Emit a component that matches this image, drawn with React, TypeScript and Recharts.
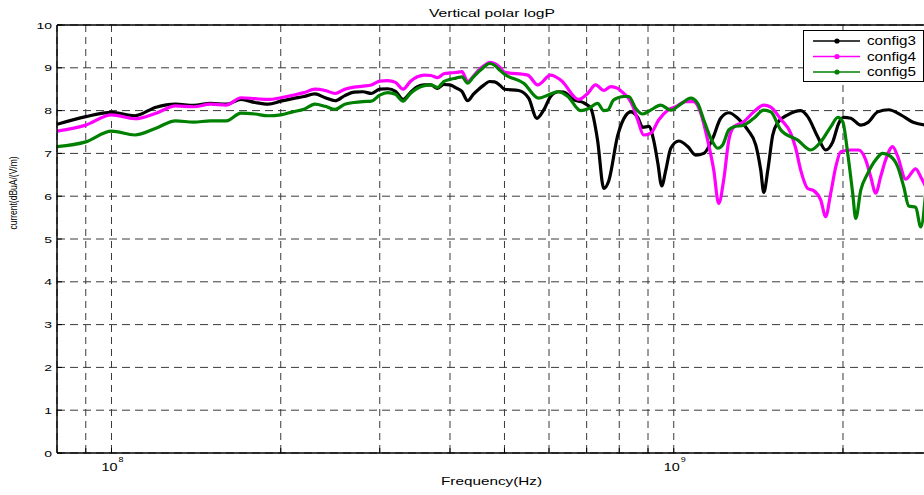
import React from 'react';
import { LineChart, Line, XAxis, YAxis, CartesianGrid, ReferenceLine, Legend } from 'recharts';

const FONT = '"Liberation Sans", Arial, Helvetica, sans-serif';

const titleText = 'Vertical polar logP';
const xLabelText = 'Frequency(Hz)';
const yLabelText = 'current(dBuA/(V/m)';

const gridFrequencies = [9e7, 1e8, 2e8, 3e8, 4e8, 5e8, 6e8, 7e8, 8e8, 9e8, 1e9, 2e9, 3e9];
const yTicks = [0, 1, 2, 3, 4, 5, 6, 7, 8, 9, 10];

const seriesNames = ['config3', 'config4', 'config5'];
const seriesColors = ['#000000', '#ff00ff', '#008000'];

const config3Freq = [
  80e6, 90e6, 100e6, 110e6, 120e6, 130e6, 140e6, 150e6, 160e6, 170e6, 180e6, 190e6, 200e6,
  210e6, 220e6, 230e6, 240e6, 250e6, 260e6, 270e6, 280e6, 290e6, 300e6, 310e6, 320e6, 330e6,
  340e6, 350e6, 360e6, 370e6, 380e6, 390e6, 400e6, 410e6, 420e6, 430e6, 440e6, 450e6, 460e6,
  470e6, 480e6, 490e6, 500e6,
  530e6, 552e6, 571e6, 587e6, 604e6, 624e6, 637e6, 664e6, 692e6, 712e6, 732e6, 751e6, 766e6,
  795e6, 821e6, 838e6, 863e6, 881e6, 903e6, 921e6, 937e6, 952e6, 968e6, 988e6, 1021e6, 1059e6,
  1094e6, 1131e6, 1173e6, 1212e6, 1253e6, 1300e6, 1354e6, 1399e6, 1428e6, 1446e6, 1470e6,
  1500e6, 1531e6, 1595e6, 1682e6, 1731e6, 1803e6, 1863e6, 1918e6, 1965e6, 2006e6, 2065e6,
  2151e6, 2213e6, 2306e6, 2412e6, 2534e6, 2673e6, 2807e6,
];
const config3Values = [
  7.68, 7.86, 7.96, 7.88, 8.08, 8.15, 8.12, 8.17, 8.15, 8.26, 8.19, 8.15, 8.22,
  8.28, 8.33, 8.39, 8.30, 8.23, 8.35, 8.43, 8.44, 8.40, 8.50, 8.51, 8.45, 8.26,
  8.42, 8.56, 8.60, 8.60, 8.52, 8.61, 8.60, 8.53, 8.45, 8.23, 8.38, 8.50, 8.60,
  8.68, 8.67, 8.60, 8.50,
  8.47, 8.29, 7.82, 8.01, 8.33, 8.44, 8.43, 8.25, 8.18, 8.05, 7.31, 6.18, 6.35,
  7.42, 7.88, 7.97, 7.84, 7.61, 7.63, 7.31, 6.77, 6.24, 6.61, 7.12, 7.29, 7.16,
  6.96, 7.00, 7.35, 7.82, 7.95, 7.82, 7.55, 7.20, 6.61, 6.09, 6.61,
  7.43, 7.72, 7.90, 8.00, 7.86, 7.39, 7.08, 7.27, 7.70, 7.84, 7.82,
  7.66, 7.72, 7.97, 8.02, 7.90, 7.72, 7.66,
];

const config4Freq = [
  80e6, 90e6, 100e6, 110e6, 120e6, 130e6, 140e6, 150e6, 160e6, 170e6, 180e6, 190e6, 200e6,
  210e6, 220e6, 230e6, 240e6, 250e6, 260e6, 270e6, 280e6, 290e6, 300e6, 310e6, 320e6, 330e6,
  340e6, 350e6, 360e6, 370e6, 380e6, 390e6, 400e6, 410e6, 420e6, 430e6, 440e6, 450e6, 460e6,
  470e6, 480e6, 490e6, 500e6,
  550e6, 573e6, 604e6, 630e6, 678e6, 703e6, 726e6, 751e6, 773e6, 795e6, 812e6, 832e6, 846e6,
  863e6, 884e6, 910e6, 940e6, 976e6, 1008e6, 1050e6, 1085e6, 1117e6, 1149e6, 1178e6, 1202e6,
  1227e6, 1253e6, 1279e6, 1332e6, 1388e6, 1446e6, 1488e6, 1550e6, 1615e6, 1648e6, 1682e6,
  1731e6, 1774e6, 1826e6, 1863e6, 1902e6, 1942e6, 1982e6, 2065e6, 2133e6, 2195e6, 2240e6,
  2287e6, 2334e6, 2382e6, 2451e6, 2502e6, 2586e6, 2694e6, 2750e6, 2807e6,
];
const config4Values = [
  7.52, 7.66, 7.90, 7.81, 7.94, 8.11, 8.09, 8.15, 8.13, 8.30, 8.28, 8.26, 8.30,
  8.36, 8.42, 8.50, 8.47, 8.40, 8.50, 8.55, 8.57, 8.60, 8.69, 8.70, 8.66, 8.50,
  8.68, 8.79, 8.83, 8.82, 8.77, 8.86, 8.88, 8.89, 8.91, 8.68, 8.80, 8.95, 9.05,
  9.13, 9.10, 9.02, 8.90,
  8.83, 8.60, 8.83, 8.71, 8.26, 8.40, 8.60, 8.47, 8.56, 8.52, 8.42, 8.28, 8.10,
  7.78, 7.43, 7.47, 7.78, 8.01, 8.09, 8.21, 8.21, 7.94, 7.31, 6.61, 5.83,
  6.38, 7.31, 7.62, 7.74, 7.97, 8.13, 8.08, 7.80, 7.47, 7.12, 6.61,
  6.18, 6.13, 5.91, 5.52, 6.07, 6.69, 7.04, 7.08, 7.08, 6.85, 6.46,
  6.07, 6.46, 6.85, 7.16, 6.93, 6.40, 6.64, 6.45, 6.22,
];

const config5Freq = [
  80e6, 90e6, 100e6, 110e6, 120e6, 130e6, 140e6, 150e6, 160e6, 170e6, 180e6, 190e6, 200e6,
  210e6, 220e6, 230e6, 240e6, 250e6, 260e6, 270e6, 280e6, 290e6, 300e6, 310e6, 320e6, 330e6,
  340e6, 350e6, 360e6, 370e6, 380e6, 390e6, 400e6, 410e6, 420e6, 430e6, 440e6, 450e6, 460e6,
  470e6, 480e6, 490e6, 500e6,
  541e6, 575e6, 597e6, 622e6, 648e6, 683e6, 706e6, 732e6, 751e6, 763e6, 782e6, 815e6, 832e6,
  856e6, 881e6, 910e6, 948e6, 988e6, 1029e6, 1072e6, 1103e6, 1131e6, 1164e6, 1198e6, 1222e6,
  1253e6, 1279e6, 1332e6, 1388e6, 1446e6, 1488e6, 1550e6, 1662e6, 1752e6, 1826e6, 1902e6,
  1958e6, 1998e6, 2039e6, 2081e6, 2107e6, 2151e6, 2213e6, 2287e6, 2353e6, 2431e6, 2502e6,
  2565e6, 2618e6, 2694e6, 2750e6, 2807e6,
];
const config5Values = [
  7.16, 7.27, 7.52, 7.43, 7.59, 7.76, 7.73, 7.76, 7.76, 7.94, 7.92, 7.88, 7.90,
  7.97, 8.03, 8.15, 8.10, 8.03, 8.15, 8.19, 8.21, 8.22, 8.36, 8.42, 8.38, 8.22,
  8.40, 8.52, 8.58, 8.60, 8.54, 8.68, 8.73, 8.76, 8.79, 8.64, 8.78, 8.91, 9.02,
  9.10, 9.06, 8.95, 8.85,
  8.64, 8.29, 8.36, 8.44, 8.33, 8.00, 8.05, 8.17, 8.00, 8.01, 8.25, 8.33, 8.33,
  8.05, 7.92, 8.01, 8.13, 8.01, 8.15, 8.29, 8.17, 7.78, 7.35, 7.12, 7.20,
  7.55, 7.62, 7.66, 7.82, 8.01, 7.97, 7.55, 7.31, 7.08, 7.27, 7.62,
  7.84, 7.74, 7.00, 6.07, 5.48, 6.14, 6.53, 6.85, 7.00, 6.93, 6.69,
  6.22, 5.77, 5.74, 5.28, 6.10,
];

const toData = (freq: number[], vals: number[]) => freq.map((f, i) => ({ f, v: vals[i] }));
const seriesData = [
  toData(config3Freq, config3Values),
  toData(config4Freq, config4Values),
  toData(config5Freq, config5Values),
];

const XTick = (props: any) => {
  const { x, y, payload } = props;
  const v = payload ? payload.value : null;
  const exp = v === 1e8 ? '8' : v === 1e9 ? '9' : '';
  return (
    <g>
      <line x1={x} x2={x} y1={y} y2={y - 5} stroke="#000" strokeWidth={1} />
      {exp ? (
        <text x={x - 10} y={y + 18} fontSize={10} fontFamily={FONT} fill="#000"
          textLength={16} lengthAdjust="spacingAndGlyphs">10</text>
      ) : null}
      {exp ? (
        <text x={x + 7} y={y + 9} fontSize={7} fontFamily={FONT} fill="#000"
          textLength={5} lengthAdjust="spacingAndGlyphs">{exp}</text>
      ) : null}
    </g>
  );
};

const YTick = (props: any) => {
  const { x, y, payload } = props;
  const label = String(payload.value);
  return (
    <g>
      <line x1={x + 5} x2={x + 10} y1={y} y2={y} stroke="#000" strokeWidth={1} />
      <text x={x} y={y + 3.5} textAnchor="end" fontSize={9.5} fontFamily={FONT} fill="#000"
        textLength={label.length * 7.8} lengthAdjust="spacingAndGlyphs">{label}</text>
    </g>
  );
};

const LegendBox = (props: any) => {
  const payload = props.payload && props.payload.length ? props.payload : seriesNames.map((n, i) => ({ value: n, color: seriesColors[i] }));
  return (
    <svg width={121} height={52} style={{ display: 'block' }}>
      <rect x={0.5} y={0.5} width={120} height={51} fill="#fff" stroke="#000" strokeWidth={1} />
      {payload.map((p: any, i: number) => {
        const cy = 11 + i * 15.5;
        return (
          <g key={p.value}>
            <line x1={10} x2={57} y1={cy} y2={cy} stroke={p.color} strokeWidth={1.3} />
            <circle cx={34} cy={cy} r={2.6} fill={p.color} />
            <text x={64} y={cy + 4} fontSize={12} fontFamily={FONT} fill="#000"
              textLength={49} lengthAdjust="spacingAndGlyphs">{p.value}</text>
          </g>
        );
      })}
    </svg>
  );
};

export default function App() {
  return (
    <div style={{ position: 'absolute', left: 0, top: 0, width: 924, height: 495, overflow: 'hidden', background: '#fff' }}>
      <LineChart width={942} height={495} margin={{ top: 25, right: 0, bottom: 0, left: 0 }}>
        <CartesianGrid vertical={false} stroke="#3a3a3a" strokeDasharray="8 5" />
        <CartesianGrid horizontal={false} stroke="#3a3a3a" strokeDasharray="7 5" />
        <XAxis
          dataKey="f"
          type="number"
          scale="log"
          domain={[8e7, 3e9]}
          allowDataOverflow
          ticks={gridFrequencies}
          interval={0}
          height={42}
          tickSize={0}
          tickMargin={0}
          tickLine={false}
          axisLine={{ stroke: '#000', strokeWidth: 1.5 }}
          tick={<XTick />}
        />
        <YAxis
          type="number"
          domain={[0, 10]}
          ticks={yTicks}
          interval={0}
          width={57}
          tickSize={0}
          tickMargin={5}
          tickLine={false}
          axisLine={{ stroke: '#000', strokeWidth: 1.5 }}
          tick={<YTick />}
        />
        <ReferenceLine y={10} stroke="#000" strokeWidth={1.5} />
        {seriesData.map((d, i) => (
          <Line
            key={seriesNames[i]}
            data={d}
            dataKey="v"
            name={seriesNames[i]}
            stroke={seriesColors[i]}
            strokeWidth={3.2}
            type="monotone"
            dot={false}
            activeDot={false}
            isAnimationActive={false}
          />
        ))}
        <Legend
          layout="vertical"
          align="center"
          verticalAlign="middle"
          width={121}
          height={52}
          wrapperStyle={{ left: 803, top: 30, width: 121, height: 52 }}
          content={<LegendBox />}
        />
        <text x={429} y={17} fontSize={11.5} fontFamily={FONT} fill="#000"
          textLength={126} lengthAdjust="spacingAndGlyphs">{titleText}</text>
        <text x={441} y={485} fontSize={11} fontFamily={FONT} fill="#000"
          textLength={101} lengthAdjust="spacingAndGlyphs">{xLabelText}</text>
        <text transform="translate(17,193) scale(1.33,1) rotate(-90)" textAnchor="middle"
          fontSize={8.5} fontFamily={FONT} fill="#000">{yLabelText}</text>
      </LineChart>
    </div>
  );
}
